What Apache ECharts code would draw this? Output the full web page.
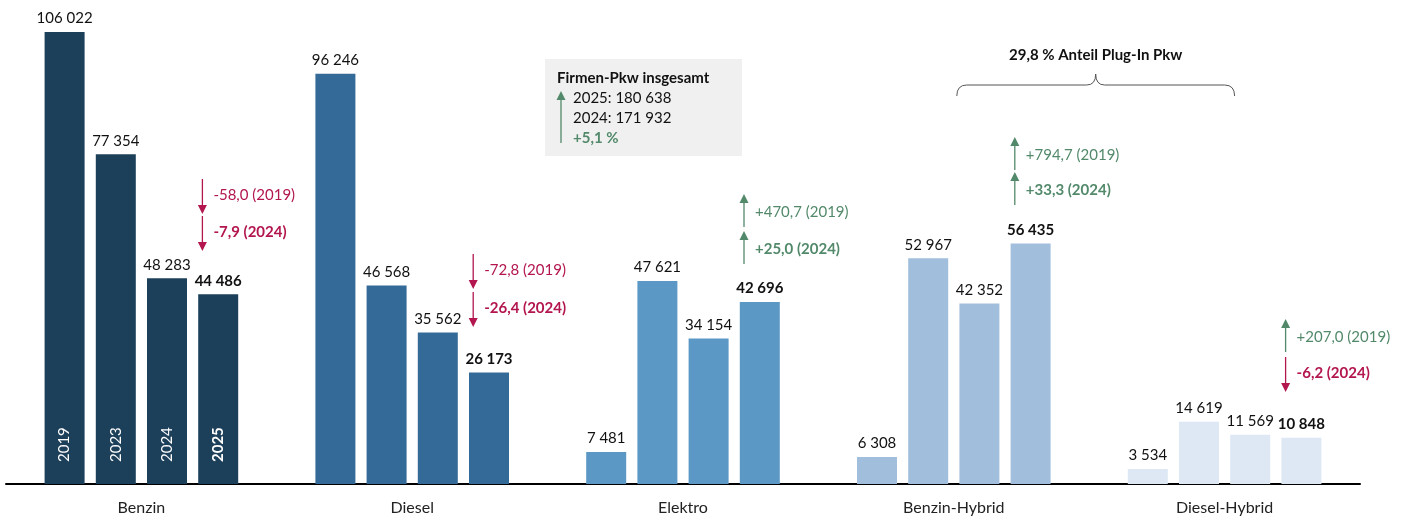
<!DOCTYPE html>
<html>
<head>
<meta charset="utf-8">
<script src="https://cdn.jsdelivr.net/npm/echarts@6/dist/echarts.min.js"></script>
<style>
html, body { margin: 0; padding: 0; background: #fff; }
#chart { width: 1406px; height: 519px; }
</style>
</head>
<body>
<div id="chart"></div>
<script>
// Daten
const categories = ['Benzin', 'Diesel', 'Elektro', 'Benzin-Hybrid', 'Diesel-Hybrid'];
const years = ['2019', '2023', '2024', '2025'];
const v2019 = [106022, 96246, 7481, 6308, 3534];
const v2023 = [77354, 46568, 47621, 52967, 14619];
const v2024 = [48283, 35562, 34154, 42352, 11569];
const v2025 = [44486, 26173, 42696, 56435, 10848];
const change2019 = [-58.0, -72.8, 470.7, 794.7, 207.0];   // Veränderung 2025 ggü. 2019 in %
const change2024 = [-7.9, -26.4, 25.0, 33.3, -6.2];       // Veränderung 2025 ggü. 2024 in %
const totalYears = ['2025', '2024'];
const totals = [180638, 171932];
const totalChange = 5.1;
const pluginShare = 29.8;

const FONT = 'Lato, "Noto Sans", sans-serif';
const catColors = ['#1c3f5a', '#346a97', '#5b98c6', '#a1bedd', '#dee8f4'];
const GREEN = '#52896a';
const RED = '#b3164f';

const fmt = v => String(v).replace(/\B(?=(\d{3})+(?!\d))/g, ' ');
const fmtPct = v => (v > 0 ? '+' : '') + v.toFixed(1).replace('.', ',');

let myChart = echarts.init(document.getElementById('chart'));

const values = [v2019, v2023, v2024, v2025];
const series = [];
years.forEach((y, i) => {
    series.push({
        name: y,
        type: 'bar',
        xAxisIndex: 0,
        barWidth: 40,
        barGap: '28%',
        silent: true,
        data: values[i],
        itemStyle: {color: p => catColors[p.dataIndex]},
        label: {
            show: true,
            position: 'top',
            distance: 6,
            formatter: p => fmt(p.value),
            fontFamily: FONT,
            fontSize: 15,
            color: '#111',
            fontWeight: i === 3 ? 'bold' : 'normal'
        }
    });
});
// Jahreszahlen in den Benzin-Balken
years.forEach((y, i) => {
    series.push({
        name: y + ' Jahr',
        type: 'bar',
        xAxisIndex: 1,
        barWidth: 40,
        barGap: '28%',
        silent: true,
        data: values[i].map((v, k) => k === 0 ? v : '-'),
        itemStyle: {color: 'rgba(0,0,0,0)'},
        label: {
            show: true,
            position: 'insideBottom',
            rotate: 90,
            align: 'left',
            verticalAlign: 'middle',
            distance: 22,
            formatter: y,
            fontFamily: FONT,
            fontSize: 15,
            color: '#fff',
            fontWeight: i === 3 ? 'bold' : 'normal'
        }
    });
});

const option = {
    animation: false,
    grid: {left: 6, right: 46, top: 32, bottom: 35, outerBoundsMode: 'none'},
    xAxis: [
        {
            type: 'category',
            data: categories,
            axisLine: {lineStyle: {color: '#000', width: 2}},
            axisTick: {show: false},
            axisLabel: {fontFamily: FONT, fontSize: 16, color: '#222', margin: 16}
        },
        {type: 'category', data: categories, show: false}
    ],
    yAxis: {type: 'value', min: 0, max: 106022, show: false},
    series: series
};
myChart.setOption(option);

// Anmerkungen (Pfeile + Prozentwerte), Lage relativ zum 2025-Balken
const annoLayout = [
    {y1: 195, y2: 232},
    {y1: 270, y2: 308},
    {y1: 212, y2: 249},
    {y1: 155, y2: 190},
    {y1: 337, y2: 373}
];
const catX = c => myChart.convertToPixel({xAxisIndex: 0}, c);

function arrow(x, yc, up, color) {
    const head = 9, hw = 4.5;
    if (up) {
        const tip = yc - 18, end = yc + 15;
        return [
            {type: 'line', shape: {x1: x, y1: tip + head, x2: x, y2: end}, style: {stroke: color, lineWidth: 1.3}},
            {type: 'polygon', shape: {points: [[x, tip], [x - hw, tip + head], [x + hw, tip + head]]}, style: {fill: color}}
        ];
    }
    const top = yc - 16, tip = yc + 19;
    return [
        {type: 'line', shape: {x1: x, y1: top, x2: x, y2: tip - head}, style: {stroke: color, lineWidth: 1.3}},
        {type: 'polygon', shape: {points: [[x, tip], [x - hw, tip - head], [x + hw, tip - head]]}, style: {fill: color}}
    ];
}
function txt(x, y, text, color, bold, size) {
    return {
        type: 'text', x: x, y: y,
        style: {text: text, fill: color, fontFamily: FONT, fontSize: size || 15,
            fontWeight: bold ? 'bold' : 'normal', align: 'left', verticalAlign: 'middle'}
    };
}

const graphics = [];
categories.forEach((c, k) => {
    const x = catX(c) + 61;
    const l = annoLayout[k];
    const c1 = change2019[k] > 0 ? GREEN : RED;
    const c2 = change2024[k] > 0 ? GREEN : RED;
    graphics.push(...arrow(x, l.y1, change2019[k] > 0, c1));
    graphics.push(...arrow(x, l.y2, change2024[k] > 0, c2));
    graphics.push(txt(x + 11, l.y1, fmtPct(change2019[k]) + ' (2019)', c1, false));
    graphics.push(txt(x + 11, l.y2, fmtPct(change2024[k]) + ' (2024)', c2, true));
});

// Kasten Firmen-Pkw insgesamt
graphics.push({type: 'rect', shape: {x: 545, y: 59, width: 197, height: 97}, style: {fill: '#f0f0f0'}});
graphics.push(txt(557, 78, 'Firmen-Pkw insgesamt', '#111', true));
graphics.push({type: 'line', shape: {x1: 561, y1: 100, x2: 561, y2: 143}, style: {stroke: GREEN, lineWidth: 1.3}});
graphics.push({type: 'polygon', shape: {points: [[561, 91], [556.5, 100], [565.5, 100]]}, style: {fill: GREEN}});
graphics.push(txt(573, 98, totalYears[0] + ': ' + fmt(totals[0]), '#111', false));
graphics.push(txt(573, 118, totalYears[1] + ': ' + fmt(totals[1]), '#111', false));
graphics.push(txt(573, 138, '+' + totalChange.toFixed(1).replace('.', ',') + ' %', GREEN, true));

// Klammer Plug-In
const xa = catX(categories[3]) + 3;
const xb = catX(categories[4]) + 10;
const xm = (xa + xb) / 2;
const braceStyle = {stroke: '#555', lineWidth: 1, fill: null};
const curve = (x1, y1, cx, cy, x2, y2) => ({
    type: 'bezierCurve',
    shape: {x1: x1, y1: y1, cpx1: cx, cpy1: cy, x2: x2, y2: y2},
    style: braceStyle
});
graphics.push(curve(xa, 96, xa, 85, xa + 10, 85));
graphics.push({type: 'line', shape: {x1: xa + 10, y1: 85, x2: xm - 9, y2: 85}, style: braceStyle});
graphics.push(curve(xm - 9, 85, xm, 85, xm, 74));
graphics.push(curve(xm, 74, xm, 85, xm + 9, 85));
graphics.push({type: 'line', shape: {x1: xm + 9, y1: 85, x2: xb - 10, y2: 85}, style: braceStyle});
graphics.push(curve(xb - 10, 85, xb, 85, xb, 96));
graphics.push({
    type: 'text', x: xm, y: 55,
    style: {text: fmtPct(pluginShare).replace('+', '') + ' % Anteil Plug-In Pkw', fill: '#111', fontFamily: FONT,
        fontSize: 15, fontWeight: 'bold', align: 'center', verticalAlign: 'middle'}
});

myChart.setOption({graphic: graphics});
</script>
</body>
</html>
